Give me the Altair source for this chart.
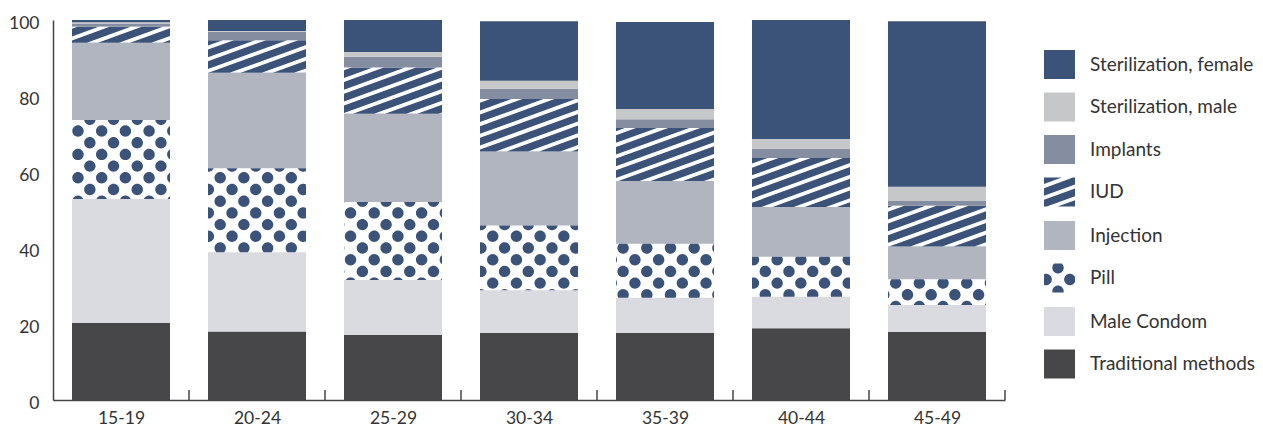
import json
import math
import altair as alt
import pandas as pd

# ---------------- data ----------------
groups = ["15-19", "20-24", "25-29", "30-34", "35-39", "40-44", "45-49"]
methods = ["Sterilization, female", "Sterilization, male", "Implants", "IUD",
           "Injection", "Pill", "Male Condom", "Traditional methods"]
# shares (%) per age group
traditional = [20.3, 18.0, 17.1, 17.7, 17.7, 18.9, 17.9]
male_condom = [32.6, 20.9, 14.5, 11.2, 9.2, 8.3, 7.1]
pill = [20.8, 22.1, 20.5, 17.0, 14.2, 10.5, 6.8]
injection = [20.3, 25.1, 23.2, 19.5, 16.5, 13.1, 8.6]
iud = [4.2, 8.6, 12.2, 13.8, 14.0, 12.9, 10.7]
implants = [0.9, 2.2, 2.8, 2.7, 2.3, 2.4, 1.3]
ster_male = [0.3, 0.2, 1.3, 2.1, 2.7, 2.6, 3.7]
ster_female = [0.6, 2.9, 8.4, 15.7, 22.9, 31.3, 43.6]
y_ticks = [0, 20, 40, 60, 80, 100]

BLUE = "#3b5379"
colors = [BLUE, "#c6c7c9", "#858ea1", BLUE, "#b0b5c0", BLUE, "#d9dbe0", "#474749"]
AXIS_COLOR = "#444444"
TEXT_COLOR = "#333333"
FONT = "Lato"

# ---------------- layout ----------------
W, H = 952, 380
PX_X = W / len(groups)          # px per x unit
PX_Y = H / 100.0                # px per y unit
BAR_HALF_PX = 49.0
BAR_HALF = BAR_HALF_PX / PX_X

# stack bottom-up
series_bottom_up = [
    ("Traditional methods", traditional),
    ("Male Condom", male_condom),
    ("Pill", pill),
    ("Injection", injection),
    ("IUD", iud),
    ("Implants", implants),
    ("Sterilization, male", ster_male),
    ("Sterilization, female", ster_female),
]
rows = []
for gi, g in enumerate(groups):
    base = 0.0
    for m, vals in series_bottom_up:
        v = vals[gi]
        rows.append({"group": g, "gi": gi, "method": m, "y0": base, "y1": base + v,
                     "xl": gi - BAR_HALF, "xr": gi + BAR_HALF,
                     "xc": gi, "yc": base + v / 2})
        base += v
df = pd.DataFrame(rows)

# ---------------- pattern geometry ----------------
def clip_half(pts, axis, val, keep_greater):
    out = []
    n = len(pts)
    for i in range(n):
        cur = pts[i]
        prev = pts[i - 1]
        cin = cur[axis] >= val if keep_greater else cur[axis] <= val
        pin = prev[axis] >= val if keep_greater else prev[axis] <= val
        if cin:
            if not pin:
                t = (val - prev[axis]) / (cur[axis] - prev[axis])
                out.append((prev[0] + t * (cur[0] - prev[0]), prev[1] + t * (cur[1] - prev[1])))
            out.append(cur)
        elif pin:
            t = (val - prev[axis]) / (cur[axis] - prev[axis])
            out.append((prev[0] + t * (cur[0] - prev[0]), prev[1] + t * (cur[1] - prev[1])))
    return out


def clip_rect(pts, x0, y0, x1, y1):
    pts = clip_half(pts, 0, x0, True)
    if pts:
        pts = clip_half(pts, 0, x1, False)
    if pts:
        pts = clip_half(pts, 1, y0, True)
    if pts:
        pts = clip_half(pts, 1, y1, False)
    return pts


def poly_path(pts, cx, cy, s):
    return "M" + "L".join(f"{(x - cx) / s:.2f},{(y - cy) / s:.2f}" for x, y in pts) + "Z"


DOT_HX, DOT_HY, DOT_R = 11.85, 11.7, 5.7
DOT_X0, DOT_Y0 = 25.0, 111.0


def dots_path(x0, y0, x1, y1, cx, cy, s, ox=DOT_X0, oy=DOT_Y0, parity=0):
    parts = []
    amin = int(math.floor((x0 - DOT_R - ox) / DOT_HX)) - 1
    amax = int(math.ceil((x1 + DOT_R - ox) / DOT_HX)) + 1
    bmin = int(math.floor((y0 - DOT_R - oy) / DOT_HY)) - 1
    bmax = int(math.ceil((y1 + DOT_R - oy) / DOT_HY)) + 1
    for a in range(amin, amax + 1):
        for b in range(bmin, bmax + 1):
            if (a + b) % 2 != parity:
                continue
            px = ox + a * DOT_HX
            py = oy + b * DOT_HY
            if px + DOT_R <= x0 or px - DOT_R >= x1 or py + DOT_R <= y0 or py - DOT_R >= y1:
                continue
            if px - DOT_R >= x0 and px + DOT_R <= x1 and py - DOT_R >= y0 and py + DOT_R <= y1:
                r = DOT_R / s
                lx = (px - cx) / s
                ly = (py - cy) / s
                parts.append(f"M{lx - r:.2f},{ly:.2f}A{r:.2f},{r:.2f} 0 1 0 {lx + r:.2f},{ly:.2f}"
                             f"A{r:.2f},{r:.2f} 0 1 0 {lx - r:.2f},{ly:.2f}Z")
            else:
                circ = [(px + DOT_R * math.cos(2 * math.pi * k / 48),
                         py + DOT_R * math.sin(2 * math.pi * k / 48)) for k in range(48)]
                c = clip_rect(circ, x0, y0, x1, y1)
                if len(c) >= 3:
                    parts.append(poly_path(c, cx, cy, s))
    return "".join(parts)


ANG = math.radians(20)
ST_PERIOD, ST_WIDTH, ST_PHASE = 11.0, 3.8, 0.0


def stripes_path(x0, y0, x1, y1, cx, cy, s, width=ST_WIDTH, phase=ST_PHASE):
    nx, ny = math.sin(ANG), math.cos(ANG)
    dx, dy = math.cos(ANG), -math.sin(ANG)
    corners = [(x0, y0), (x1, y0), (x0, y1), (x1, y1)]
    proj = [x * nx + y * ny for x, y in corners]
    kmin = int(math.floor((min(proj) - phase) / ST_PERIOD)) - 1
    kmax = int(math.ceil((max(proj) - phase) / ST_PERIOD)) + 1
    mx, my = (x0 + x1) / 2, (y0 + y1) / 2
    L = 2000
    parts = []
    for k in range(kmin, kmax + 1):
        u0 = phase + k * ST_PERIOD
        u1 = u0 + width
        t0 = u0 - (mx * nx + my * ny)
        t1 = u1 - (mx * nx + my * ny)
        a = (mx + t0 * nx - L * dx, my + t0 * ny - L * dy)
        b = (mx + t0 * nx + L * dx, my + t0 * ny + L * dy)
        c = (mx + t1 * nx + L * dx, my + t1 * ny + L * dy)
        d = (mx + t1 * nx - L * dx, my + t1 * ny - L * dy)
        cl = clip_rect([a, b, c, d], x0, y0, x1, y1)
        if len(cl) >= 3:
            parts.append(poly_path(cl, cx, cy, s))
    return "".join(parts)


def seg_geom(r):
    cxp = (r["gi"] + 0.5) * PX_X
    cyp = (100 - r["yc"]) * PX_Y
    return (cxp - BAR_HALF_PX, (100 - r["y1"]) * PX_Y, cxp + BAR_HALF_PX,
            (100 - r["y0"]) * PX_Y, cxp, cyp)

# ---------------- scales / axes ----------------
xs = alt.Scale(domain=[-0.5, len(groups) - 0.5], nice=False, zero=False)
ys = alt.Scale(domain=[0, 100], nice=False)
label_expr = json.dumps(groups) + "[datum.value]"
xaxis = alt.Axis(values=list(range(len(groups))), labelExpr=label_expr, ticks=False,
                 grid=False, title=None, domainColor=AXIS_COLOR, domainWidth=1.5,
                 labelFont=FONT, labelFontSize=17.5, labelColor=TEXT_COLOR,
                 labelPadding=9, labelFlush=False, zindex=1)
yaxis = alt.Axis(values=y_ticks, ticks=False, grid=False, title=None,
                 domainColor=AXIS_COLOR, domainWidth=1.5, labelFont=FONT,
                 labelFontSize=17.5, labelColor=TEXT_COLOR, labelPadding=14,
                 labelOffset=3, zindex=1)


def X(f):
    return alt.X(f, type="quantitative", scale=xs, axis=xaxis)


def Y(f):
    return alt.Y(f, type="quantitative", scale=ys, axis=yaxis)


# legend symbols (unit coords, [-1,1])
SYM = 31.0
S_HALF = SYM / 2
SQUARE = "M-1,-0.935H1V0.935H-1Z"
bx0, by0, bx1, by1 = -S_HALF, -S_HALF * 0.935, S_HALF, S_HALF * 0.935
iud_sym = stripes_path(bx0, by0, bx1, by1, 0, 0, S_HALF,
                       width=ST_PERIOD - ST_WIDTH, phase=2.0)
pill_sym = dots_path(bx0, by0, bx1, by1, 0, 0, S_HALF, ox=-1.5, oy=1.5, parity=1)
shape_range = [SQUARE if m not in ("IUD", "Pill") else (iud_sym if m == "IUD" else pill_sym)
               for m in methods]

legend = alt.Legend(title=None, orient="none", legendX=991, legendY=29,
                    symbolSize=SYM * SYM, symbolStrokeWidth=0, symbolOpacity=1,
                    labelFont=FONT, labelFontSize=19, labelColor=TEXT_COLOR,
                    labelOffset=15, labelLimit=400, rowPadding=12.5, padding=0)
color_scale = alt.Scale(domain=methods, range=colors)

# ---------------- layers ----------------
bars = alt.Chart(df[df["method"] != "Pill"]).mark_bar().encode(
    x=X("xl"), x2="xr", y=Y("y0"), y2="y1",
    color=alt.Color("method:N", scale=color_scale, legend=legend),
)

layers = [bars]
for _, r in df[df["method"].isin(["Pill", "IUD"])].iterrows():
    x0, y0, x1, y1, cx, cy = seg_geom(r)
    if r["method"] == "Pill":
        path = dots_path(x0, y0, x1, y1, cx, cy, 1.0)
        col = BLUE
    else:
        path = stripes_path(x0, y0, x1, y1, cx, cy, 1.0)
        col = "#ffffff"
    layers.append(
        alt.Chart(df).transform_filter(
            (alt.datum.gi == int(r["gi"])) & (alt.datum.method == r["method"])
        ).mark_point(shape=path, size=4, filled=True, opacity=1, color=col,
                     strokeWidth=0).encode(x=X("xc"), y=Y("yc"))
    )

tick_df = pd.DataFrame({"xt": [i + 0.5 for i in range(len(groups))],
                        "t0": [0.0] * len(groups), "t1": [10 / PX_Y] * len(groups)})
ticks = alt.Chart(tick_df).mark_rule(color=AXIS_COLOR, strokeWidth=1.5).encode(
    x=X("xt"), y=Y("t0"), y2="t1")
layers.append(ticks)

# invisible (clipped, off-plot) points that carry the merged colour+shape legend
legend_layer = alt.Chart(pd.DataFrame({"method": methods})).mark_point(
    filled=True, opacity=1, clip=True, size=1).encode(
    x=alt.value(-400), y=alt.value(-400),
    color=alt.Color("method:N", scale=color_scale, legend=legend),
    shape=alt.Shape("method:N", scale=alt.Scale(domain=methods, range=shape_range),
                    legend=legend),
)
layers.append(legend_layer)

chart = alt.layer(*layers).properties(
    width=W, height=H, autosize="none",
    padding={"left": 45, "top": 12, "right": 250, "bottom": 28},
).configure_view(strokeOpacity=0)

chart.save("out.html", embed_options={"renderer": "svg", "actions": False})
